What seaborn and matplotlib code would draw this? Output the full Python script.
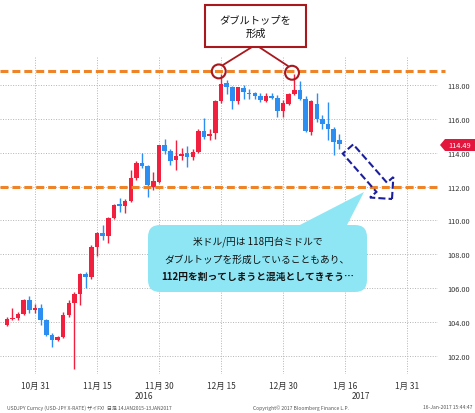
import matplotlib
matplotlib.use("Agg")
import numpy as np
import pandas as pd
import matplotlib.pyplot as plt
import seaborn as sns
from matplotlib.patches import Rectangle, FancyBboxPatch, Polygon, FancyArrow
from matplotlib.transforms import Affine2D
from matplotlib.lines import Line2D

# USD/JPY daily candles, 24 Oct 2016 - 13 Jan 2017 (weekdays)
opens = [103.85, 104.20, 104.25, 104.50, 105.28, 104.70, 104.82, 104.12, 103.25, 102.96,
         103.12, 104.40, 105.12, 105.67, 106.84, 106.65, 108.45, 109.25, 109.10, 110.14,
         110.95, 110.85, 111.16, 112.53, 113.37, 113.20, 112.00, 112.30, 114.43, 114.08,
         113.55, 113.80, 114.00, 113.75, 114.04, 115.31, 114.96, 115.16, 117.04, 118.10,
         117.86, 117.07, 117.80, 117.55, 117.51, 117.37, 117.07, 117.37, 117.25, 116.48,
         116.88, 117.47, 117.73, 117.18, 115.25, 116.88, 116.00, 115.70, 115.41, 114.73]
highs = [104.30, 104.82, 104.60, 105.35, 105.55, 105.10, 105.10, 104.20, 103.35, 103.20,
         104.60, 105.30, 105.80, 106.90, 106.95, 108.55, 109.35, 109.75, 110.20, 111.00,
         111.35, 111.25, 113.00, 113.50, 113.96, 113.30, 112.85, 114.45, 114.82, 114.20,
         114.78, 114.30, 114.40, 114.20, 115.40, 116.04, 115.40, 117.10, 118.62, 118.30,
         117.95, 117.90, 118.00, 117.75, 117.60, 117.50, 117.50, 117.55, 117.40, 117.10,
         117.55, 118.62, 118.25, 117.35, 117.10, 117.55, 116.20, 117.00, 115.50, 115.10]
lows = [103.75, 104.10, 104.15, 104.40, 104.55, 104.55, 103.85, 103.20, 102.53, 102.90,
        103.05, 104.30, 101.25, 105.00, 106.00, 106.55, 107.90, 108.85, 108.70, 110.10,
        110.50, 110.43, 111.10, 112.40, 113.10, 111.40, 111.80, 112.20, 113.95, 113.30,
        112.96, 113.60, 113.16, 113.60, 114.00, 114.80, 114.75, 114.80, 116.95, 117.45,
        116.58, 116.90, 117.20, 117.20, 117.20, 117.00, 117.00, 117.15, 116.10, 116.10,
        116.80, 117.40, 117.10, 115.25, 115.05, 115.80, 115.40, 114.73, 113.84, 114.23]
closes = [104.20, 104.25, 104.50, 105.28, 104.72, 104.82, 104.12, 103.25, 102.96, 103.12,
          104.40, 105.12, 105.67, 106.84, 106.65, 108.45, 109.25, 109.10, 110.14, 110.92,
          110.85, 111.16, 112.53, 113.37, 113.24, 112.10, 112.35, 114.43, 114.08, 113.49,
          113.80, 113.95, 113.75, 114.04, 115.31, 114.92, 115.10, 117.04, 118.06, 117.90,
          117.07, 117.86, 117.57, 117.48, 117.33, 117.13, 117.37, 117.23, 116.48, 116.94,
          117.47, 117.73, 117.18, 115.31, 117.08, 116.00, 115.70, 115.40, 114.63, 114.49]

tick_dates = ["2016-10-31", "2016-11-15", "2016-11-30", "2016-12-15",
              "2016-12-30", "2017-01-16", "2017-01-31"]
tick_labels = ["10月 31", "11月 15", "11月 30", "12月 15", "12月 30", "1月 16", "1月 31"]
year_labels = ["2016", "2017"]
price_ticks = [102, 104, 106, 108, 110, 112, 114, 116, 118]

resistance = 118.8
support = 112.0
peak_dates = ["2016-12-15", "2017-01-03"]
last_price = closes[-1]

callout_text = "ダブルトップを\n形成"
bubble_lines = ["米ドル/円は 118円台ミドルで",
                "ダブルトップを形成していることもあり、",
                "112円を割ってしまうと混沌としてきそう…"]
footer_left = "USDJPY Curncy (USD-JPY X-RATE) ザイFX!  日足 14JAN2015-13JAN2017"
footer_mid = "Copyright© 2017 Bloomberg Finance L.P."
footer_right = "16-Jan-2017 15:44:47"

# ---------------------------------------------------------------- styling
sns.set_theme(style="white")
plt.rcParams["font.family"] = ["Noto Sans CJK JP", "DejaVu Sans"]

UP = "#f0203e"
DOWN = "#2b8ef0"
ORANGE = "#ef8327"
DARKRED = "#a8181d"
NAVY = "#1b1f9e"
CYAN = "#8ee6f4"
TXT = "#333333"

W, H = 475, 414
fig = plt.figure(figsize=(W / 100, H / 100), dpi=100)
fig.patch.set_facecolor("white")
ax = fig.add_axes([0, (H - 375) / H, 438 / W, (375 - 58) / H])

# trading-day positions (weekdays only)
calendar = pd.bdate_range("2016-10-24", "2017-01-31")
df = pd.DataFrame({"date": calendar[:len(opens)], "open": opens, "high": highs,
                   "low": lows, "close": closes})
df["x"] = np.arange(len(df))
df["up"] = df["close"] >= df["open"]
colors = np.where(df["up"], UP, DOWN)

# wicks and bodies
ax.vlines(df["x"], df["low"], df["high"], colors=colors, lw=1.0, zorder=3)
body_bottom = np.minimum(df["open"], df["close"])
body_height = np.maximum(np.abs(df["close"] - df["open"]), 0.07)
ax.bar(df["x"], body_height, bottom=body_bottom, width=0.8, color=colors,
       linewidth=0, zorder=4)

# axes limits and grid
ax.set_xlim(-1.21, 76.5)
ax.set_ylim(100.94, 119.65)
tick_pos = [calendar.get_loc(pd.Timestamp(d)) for d in tick_dates]
ax.set_xticks(tick_pos)
ax.set_xticklabels(tick_labels, fontsize=6, color=TXT)
ax.set_yticks(price_ticks)
ax.set_yticklabels([f"{p:.2f}" for p in price_ticks], fontsize=5.3, color=TXT)
ax.yaxis.tick_right()
ax.tick_params(axis="both", length=0)
ax.tick_params(axis="y", pad=6.5)
ax.tick_params(axis="x", pad=5)
ax.grid(True, color="#b4b4b4", linestyle=(0, (1, 1.6)), lw=0.7)
for s in ax.spines.values():
    s.set_visible(False)

# support / resistance lines
xl = ax.get_xlim()
ax.plot([xl[0], xl[1] + 1.2], [resistance, resistance], color=ORANGE, lw=2.2,
        linestyle=(0, (2.6, 1.3)), clip_on=False, zorder=5)
ax.plot([xl[0], xl[1] + 0.4], [support, support], color=ORANGE, lw=2.2,
        linestyle=(0, (2.6, 1.3)), clip_on=False, zorder=5)

# circles on the two tops
peaks = pd.DataFrame({"x": [calendar.get_loc(pd.Timestamp(d)) - 0.4 for d in peak_dates],
                      "y": [resistance, resistance - 0.08]})
sns.scatterplot(data=peaks, x="x", y="y", ax=ax, s=100, facecolor="none",
                edgecolor=DARKRED, linewidth=1.5, zorder=6, legend=False)
ax.set_xlabel("")
ax.set_ylabel("")

# pixel-space transform (origin top-left) for annotations
px = Affine2D().scale(1, -1).translate(0, H)

# callout box
fig.add_artist(Rectangle((205, 6), 101, 42, transform=px, facecolor="white",
                         edgecolor=DARKRED, lw=1.5, zorder=10))
fig.text(255.5, 27, callout_text, transform=px, ha="center", va="center",
         fontsize=7.4, color="#111111", linespacing=1.45, zorder=11)
fig.add_artist(Line2D([252, 223], [48, 66], transform=px, color=DARKRED, lw=1.3))
fig.add_artist(Line2D([259, 288], [48, 67], transform=px, color=DARKRED, lw=1.3))

# dashed hollow arrow
fig.add_artist(FancyArrow(348, 150, 44, 50, width=14, head_width=31, head_length=15.6,
                          length_includes_head=True, transform=px, fill=False,
                          edgecolor=NAVY, lw=1.5, linestyle=(0, (3.4, 1.5)), zorder=9))

# speech bubble
fig.add_artist(Polygon([(296, 228), (364, 193), (346, 228)], closed=True,
                       transform=px, facecolor=CYAN, edgecolor="none", zorder=8))
fig.add_artist(FancyBboxPatch((148, 226), 219, 67,
                              boxstyle="round,pad=0,rounding_size=12",
                              transform=px, facecolor=CYAN, edgecolor="none", zorder=8))
for i, (line, yy) in enumerate(zip(bubble_lines, [242, 259.5, 277])):
    fig.text(257.5, yy, line, transform=px, ha="center", va="center", fontsize=7,
             color="#111111", fontweight="bold" if i == 2 else "normal", zorder=9)

# last price tag
fig.add_artist(Polygon([(440, 146), (445, 140), (475, 140), (475, 152), (445, 152)],
                       closed=True, transform=px, facecolor="#e3163d",
                       edgecolor="none", zorder=10))
fig.text(459.5, 146.3, f"{last_price:.2f}", transform=px, ha="center", va="center",
         fontsize=5.3, color="white", zorder=11)

# year labels and footer
fig.text(144, 397, year_labels[0], transform=px, ha="center", va="center",
         fontsize=6, color=TXT)
fig.text(361, 397, year_labels[1], transform=px, ha="center", va="center",
         fontsize=6, color=TXT)
fig.text(7, 408, footer_left, transform=px, ha="left", va="center",
         fontsize=3.6, color="#555555")
fig.text(253, 408, footer_mid, transform=px, ha="left", va="center",
         fontsize=3.6, color="#555555")
fig.text(472, 408, footer_right, transform=px, ha="right", va="center",
         fontsize=3.6, color="#555555")

fig.savefig("out.png", dpi=100)
